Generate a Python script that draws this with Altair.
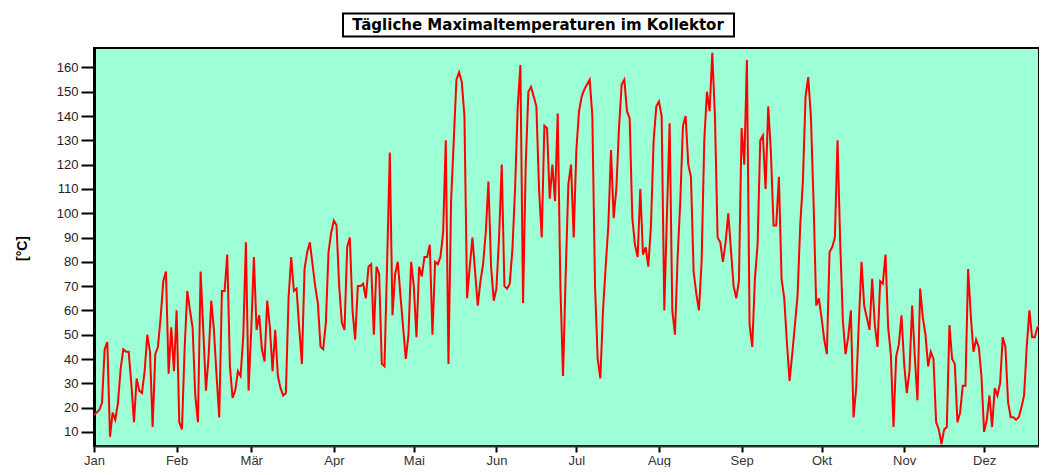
import altair as alt
import pandas as pd

# Daily maximum collector temperatures [°C], day 0 = 1 Jan
max_temp = [
    17, 18, 19, 22, 44, 47, 8, 18, 15, 22,
    36, 44, 43, 43, 30, 14, 32, 27, 26, 35,
    50, 43, 12, 42, 45, 57, 72, 76, 34, 53,
    35, 60, 14, 11, 44, 68, 60, 53, 25, 14,
    76, 52, 27, 41, 64, 52, 33, 16, 68, 68,
    83, 37, 24, 27, 35, 33, 49, 88, 27, 52,
    82, 52, 58, 44, 39, 64, 53, 35, 52, 33,
    28, 25, 26, 65, 82, 68, 69, 53, 38, 77,
    84, 88, 79, 70, 63, 45, 44, 55, 84, 92,
    97, 95, 70, 55, 52, 86, 90, 60, 48, 70,
    70, 71, 65, 78, 79, 50, 78, 75, 38, 37,
    80, 125, 58, 75, 80, 66, 53, 40, 50, 80,
    70, 49, 78, 74, 82, 82, 87, 50, 80, 79,
    82, 92, 130, 38, 105, 130, 155, 158, 154, 140,
    65, 78, 90, 76, 62, 72, 79, 92, 113, 78,
    64, 69, 90, 120, 70, 69, 71, 85, 110, 144,
    161, 63, 120, 150, 152, 148, 144, 110, 90, 136,
    135, 106, 120, 105, 141, 70, 33, 75, 112, 120,
    90, 126, 142, 148, 151, 153, 155, 140, 70, 40,
    32, 60, 78, 95, 126, 98, 110, 135, 153, 155,
    142, 139, 98, 87, 82, 110, 83, 86, 78, 95,
    130, 144, 146, 140, 60, 100, 137, 60, 50, 82,
    105, 136, 140, 120, 115, 76, 67, 60, 80, 130,
    150, 142, 166, 140, 90, 88, 80, 88, 100, 85,
    70, 65, 72, 135, 120, 163, 54, 45, 73, 87,
    130, 132, 110, 144, 125, 95, 95, 115, 73, 65,
    47, 31, 42, 54, 66, 95, 113, 148, 156, 140,
    105, 62, 65, 57, 48, 42, 84, 86, 90, 130,
    88, 56, 42, 49, 60, 16, 28, 55, 80, 62,
    57, 52, 73, 54, 45, 72, 71, 83, 53, 42,
    12, 41, 46, 58, 38, 26, 35, 62, 41, 23,
    69, 57, 50, 37, 43, 40, 14, 11, 5, 11,
    12, 54, 40, 38, 14, 18, 29, 29, 77, 58,
    43, 48, 45, 33, 10, 15, 25, 12, 28, 25,
    30, 49, 45, 22, 16, 16, 15, 16, 20, 25,
    45, 60, 49, 49, 53, 54, 37, 10, 42,
]

month_start_days = [0, 31, 59, 90, 120, 151, 181, 212, 243, 273, 304, 334]
month_labels = ["Jan", "Feb", "Mär", "Apr", "Mai", "Jun",
                "Jul", "Aug", "Sep", "Okt", "Nov", "Dez"]
y_ticks = list(range(10, 161, 10))

title_text = "Tägliche Maximaltemperaturen im Kollektor"
y_title = "[°C]"

df = pd.DataFrame({"day": list(range(len(max_temp))), "temp": max_temp})

label_map = "{" + ",".join(f"'{d}':'{m}'" for d, m in zip(month_start_days, month_labels)) + "}"

FONT = "Liberation Sans"
PLOT_W = 945
PLOT_H = 398

line = alt.Chart(df).mark_line(color="#FF0000", strokeWidth=2, clip=True).encode(
    x=alt.X(
        "day:Q",
        scale=alt.Scale(domain=[0, 354.6], nice=False, zero=False),
        axis=alt.Axis(
            values=month_start_days,
            labelExpr=f"{label_map}[''+datum.value]",
            title=None,
            grid=False,
            tickSize=6,
            tickWidth=2,
            tickColor="black",
            domainColor="#333333",
            domainWidth=2,
            labelFont=FONT,
            labelFontSize=13,
            labelColor="#333333",
            labelPadding=2,
            labelFlush=False,
            labelOverlap=False,
        ),
    ),
    y=alt.Y(
        "temp:Q",
        scale=alt.Scale(domain=[4.2, 168], nice=False, zero=False),
        axis=alt.Axis(
            values=y_ticks,
            title=y_title,
            grid=False,
            tickSize=13,
            tickWidth=2,
            tickColor="black",
            domainColor="black",
            domainWidth=3,
            labelFont=FONT,
            labelFontSize=13,
            labelColor="#222222",
            labelPadding=3,
            titleFont=FONT,
            titleFontSize=14,
            titleFontWeight="bold",
            titleColor="black",
            titleAngle=-90,
            titleX=-72,
            titleY=200,
            titleAlign="center",
            titleBaseline="middle",
        ),
    ),
)

tdf = pd.DataFrame({"title": [title_text]})

box = alt.Chart(tdf).mark_rect(fill="white", stroke="black", strokeWidth=2).encode(
    x=alt.value(249), x2=alt.value(640), y=alt.value(-34.5), y2=alt.value(-11.5)
)

title_mark = alt.Chart(tdf).mark_text(
    font="DejaVu Sans", fontSize=15, fontWeight="bold", color="black",
    align="center", baseline="middle"
).encode(
    text="title:N", x=alt.value(444), y=alt.value(-23)
)

chart = alt.layer(line, box, title_mark).properties(
    width=PLOT_W,
    height=PLOT_H,
    autosize=alt.AutoSizeParams(type="none"),
    padding={"left": 86, "top": 40, "right": 0, "bottom": 21},
    background="white",
).configure_view(
    fill="#9DFFD5",
    stroke="black",
    strokeWidth=2,
)

chart.save("out.html", embed_options={"renderer": "svg", "actions": False})
